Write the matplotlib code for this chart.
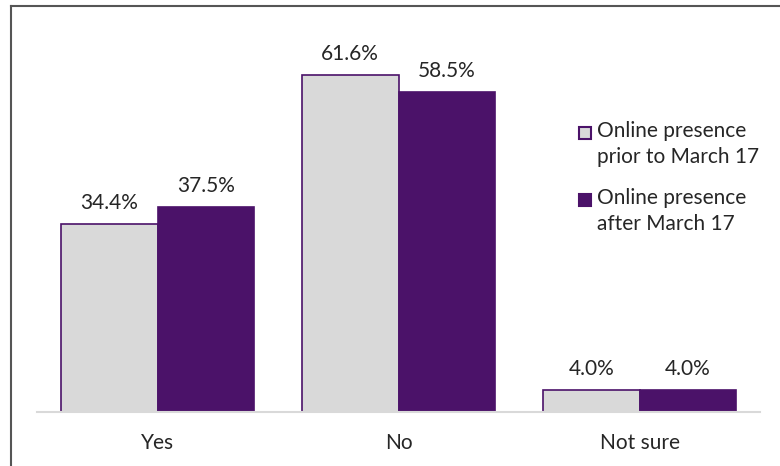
import matplotlib.pyplot as plt
import numpy as np
from matplotlib.lines import Line2D
from matplotlib.patches import Rectangle

plt.rcParams['font.family'] = ['Lato', 'DejaVu Sans']

categories = ['Yes', 'No', 'Not sure']
prior = [34.4, 61.6, 4.0]
after = [37.5, 58.5, 4.0]
series_names = ['Online presence\nprior to March 17', 'Online presence\nafter March 17']

purple = '#4b1269'
grey = '#d9d9d9'
txt = '#262626'

W, H = 780, 466
fig = plt.figure(figsize=(7.8, 4.66), dpi=100)
ax = fig.add_axes([37 / W, 54 / H, 723 / W, 383 / H])

x = np.arange(len(categories))
w = 0.4
b1 = ax.bar(x - w / 2, prior, w, color=grey, edgecolor=purple, linewidth=1.2)
b2 = ax.bar(x + w / 2, after, w, color=purple, edgecolor=purple, linewidth=1.2)

for bars in (b1, b2):
    for r in bars:
        ax.annotate(f'{r.get_height():.1f}%', (r.get_x() + r.get_width() / 2, r.get_height()),
                    xytext=(0, 8), textcoords='offset points', ha='center', va='bottom',
                    fontsize=15, color=txt)

ax.set_xlim(-0.5, 2.5)
ax.set_ylim(0, 70)
ax.set_xticks(x)
ax.set_xticklabels(categories, fontsize=15, color=txt)
ax.tick_params(axis='x', length=0, pad=15)
ax.set_yticks([])
for s in ['left', 'right', 'top']:
    ax.spines[s].set_visible(False)
ax.spines['bottom'].set_color(grey)
ax.spines['bottom'].set_linewidth(1.5)

# legend drawn by hand so the marker sits on the first text line
for name, face, y0 in zip(series_names, [grey, purple], [133, 200]):
    fig.add_artist(Rectangle((579 / W, 1 - (y0 + 6) / H), 12 / W, 12 / H,
                             transform=fig.transFigure, facecolor=face,
                             edgecolor=purple, linewidth=1.5))
    fig.text(597 / W, 1 - (y0 - 12) / H, name, fontsize=15, color=txt,
             ha='left', va='top', linespacing=1.35)

# outer border (left and top only visible)
fig.add_artist(Line2D([11 / W, 11 / W], [0, 1 - 6 / H], transform=fig.transFigure,
                      color='#555555', linewidth=1.5))
fig.add_artist(Line2D([11 / W, 1], [1 - 6 / H, 1 - 6 / H], transform=fig.transFigure,
                      color='#555555', linewidth=1.5))

fig.savefig('out.png', dpi=100)
